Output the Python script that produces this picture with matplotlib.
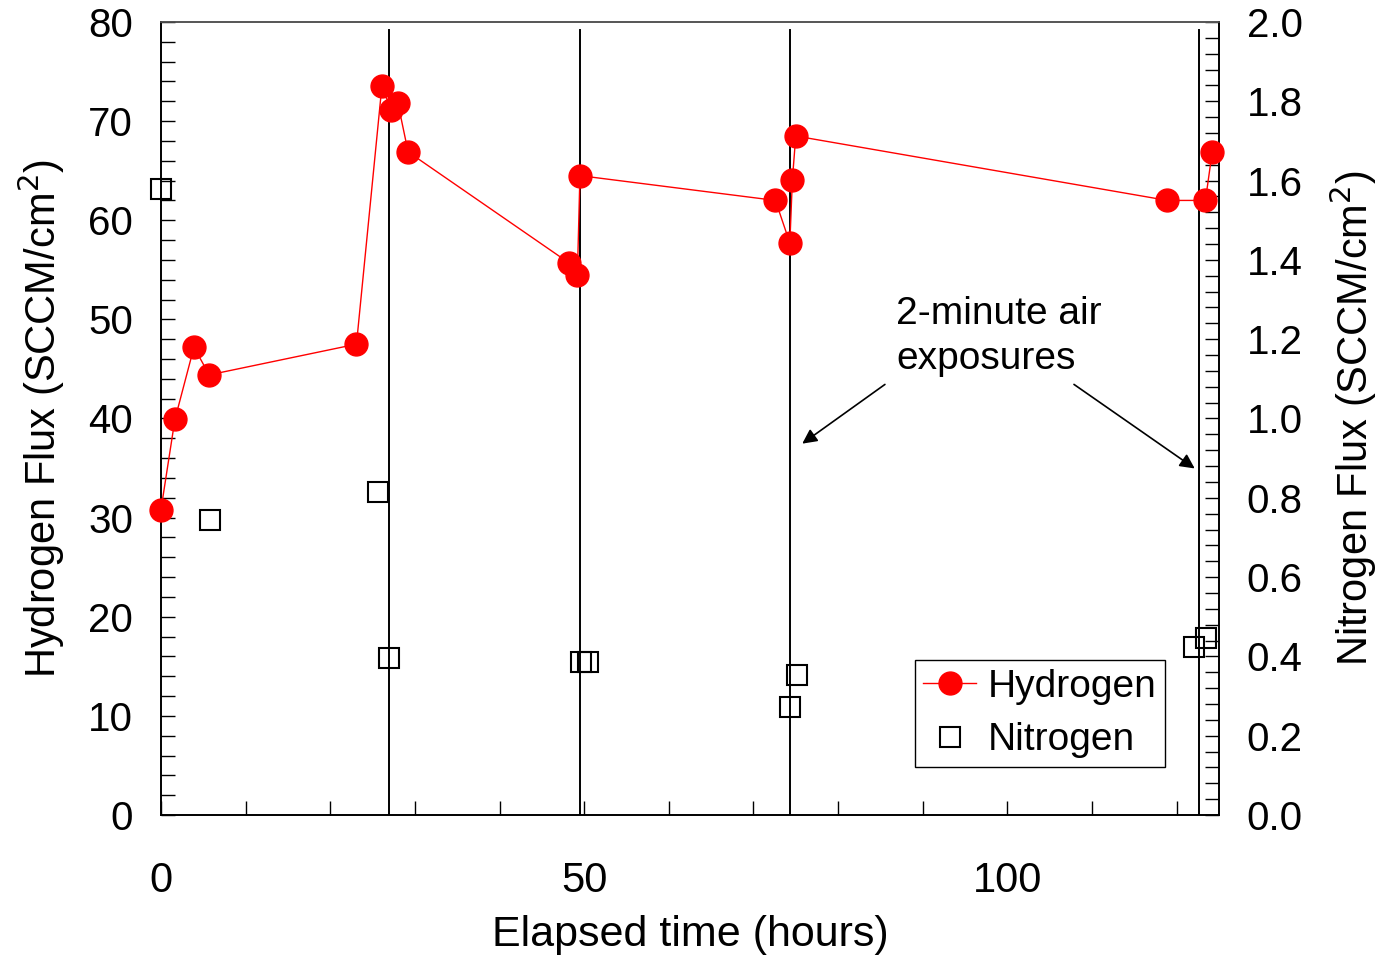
import matplotlib
matplotlib.use("Agg")
import matplotlib.pyplot as plt
from matplotlib.ticker import MultipleLocator, FormatStrFormatter

plt.rcParams['font.family'] = ['Liberation Sans', 'DejaVu Sans']

h2_time = [0, 1.65, 3.9, 5.7, 23.1, 26.1, 27.2, 28.0, 29.2, 48.2, 49.2, 49.5,
           72.6, 74.3, 74.6, 75.0, 118.9, 123.4, 124.2]
h2_flux = [30.8, 39.9, 47.2, 44.4, 47.5, 73.5, 71.1, 71.8, 66.9, 55.7, 54.5, 64.5,
           62.0, 57.7, 64.1, 68.5, 62.0, 62.0, 66.9]
n2_time = [0, 5.8, 25.7, 27.0, 49.6, 50.4, 74.3, 75.1, 122.1, 123.5]
n2_flux = [1.579, 0.744, 0.815, 0.396, 0.386, 0.386, 0.272, 0.353, 0.424, 0.446]
exposure_times = [27.0, 49.5, 74.3, 122.6]
exposure_top = 79.2

fig = plt.figure(figsize=(13.78, 9.57), dpi=100)
ax = fig.add_axes([0.1168, 0.1484, 0.7678, 0.8286])
ax2 = ax.twinx()

for t in exposure_times:
    ax.plot([t, t], [0, exposure_top], color='black', lw=1.4, zorder=1)

l1, = ax.plot(h2_time, h2_flux, color='red', lw=1, marker='o', markersize=16.5,
              markerfacecolor='red', markeredgecolor='red', label='Hydrogen',
              zorder=3, clip_on=False)
l2, = ax2.plot(n2_time, n2_flux, linestyle='none', marker='s', markersize=14,
               markerfacecolor='none', markeredgecolor='black', markeredgewidth=1.5,
               label='Nitrogen', zorder=3, clip_on=False)

ax.set_xlim(0, 125)
ax.set_ylim(0, 80)
ax2.set_ylim(0, 2.0)

ax.xaxis.set_major_locator(MultipleLocator(50))
ax.xaxis.set_minor_locator(MultipleLocator(10))
ax.yaxis.set_major_locator(MultipleLocator(10))
ax.yaxis.set_minor_locator(MultipleLocator(2))
ax2.yaxis.set_major_locator(MultipleLocator(0.2))
ax2.yaxis.set_minor_locator(MultipleLocator(0.04))
ax2.yaxis.set_major_formatter(FormatStrFormatter('%.1f'))

ax.tick_params(axis='x', which='both', direction='in', top=False, labelsize=30, pad=33,
               length=10, width=1)
ax.tick_params(axis='y', which='both', direction='in', right=False, labelsize=29, pad=20,
               length=10, width=1)
ax2.tick_params(axis='y', which='both', direction='in', labelsize=29, pad=20,
                length=10, width=1)

for a in (ax, ax2):
    for s in a.spines.values():
        s.set_linewidth(1.2)
    a.spines['top'].set_color('#555555')

ax.set_xlabel('Elapsed time (hours)', fontsize=31, labelpad=10)
ax.set_ylabel('Hydrogen Flux (SCCM/cm$^2$)', fontsize=30, labelpad=15)
ax2.set_ylabel('Nitrogen Flux (SCCM/cm$^2$)', fontsize=30, labelpad=18)

ax.text(86.9, 52.4, '2-minute air\nexposures', fontsize=28, va='top', ha='left',
        linespacing=1.35)
ax.annotate('', xy=(75.5, 37.3), xytext=(85.8, 43.6),
            arrowprops=dict(arrowstyle='-|>', color='black', lw=1.2, mutation_scale=22))
ax.annotate('', xy=(122.4, 34.8), xytext=(107.6, 43.6),
            arrowprops=dict(arrowstyle='-|>', color='black', lw=1.2, mutation_scale=22))

leg = ax.legend([l1, l2], ['Hydrogen', 'Nitrogen'], loc='lower right',
                bbox_to_anchor=(0.949, 0.0605), fontsize=28, frameon=True,
                fancybox=False, edgecolor='black', framealpha=1,
                handlelength=1.36, handletextpad=0.3, borderpad=0.22,
                labelspacing=0.45, borderaxespad=0)
leg.get_frame().set_linewidth(1.0)
ax.set_zorder(ax2.get_zorder() + 1)
ax.patch.set_visible(False)

fig.savefig('out.png', dpi=100)
